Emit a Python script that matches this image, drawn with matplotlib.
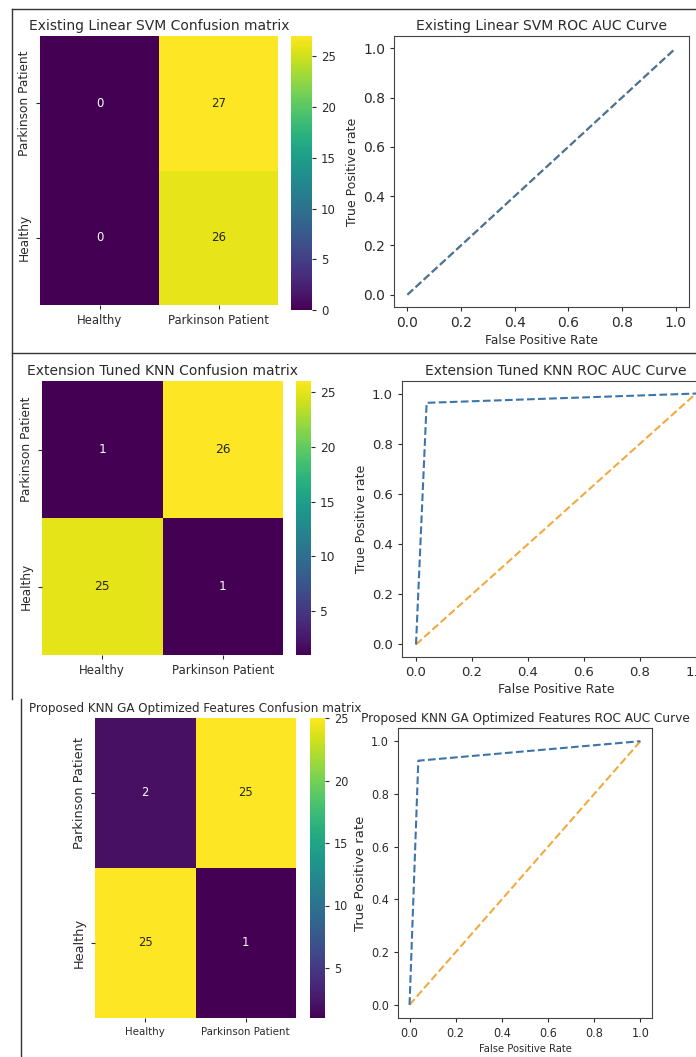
import numpy as np
import matplotlib
matplotlib.use('Agg')
import matplotlib.pyplot as plt
import seaborn as sns
from matplotlib.lines import Line2D

W, H = 696, 1057

labels = ['Healthy', 'Parkinson Patient']
row_labels = ['Parkinson Patient', 'Healthy']

svm_cm = np.array([[0, 27], [0, 26]])
knn_cm = np.array([[1, 26], [25, 1]])
ga_cm = np.array([[2, 25], [25, 1]])

svm_fpr = [0.0, 1.0]
svm_tpr = [0.0, 1.0]
knn_fpr = [0.0, 0.038, 1.0]
knn_tpr = [0.0, 0.963, 1.0]
ga_fpr = [0.0, 0.038, 1.0]
ga_tpr = [0.0, 0.926, 1.0]
chance = [0.0, 1.0]

titles = ['Existing Linear SVM', 'Extension Tuned KNN', 'Proposed KNN GA Optimized Features']

BLUE = '#3d75aa'
ORANGE = '#f2aa40'
TXT = '#2b2b2b'


def box(x0, y0, x1, y1):
    # pixel box -> figure fraction
    return [x0 / W, 1 - y1 / H, (x1 - x0) / W, (y1 - y0) / H]


def draw_cm(fig, cm, title, hm_box, cb_box, sz, fp, fp_rot):
    ax = fig.add_axes(box(*hm_box))
    cax = fig.add_axes(box(*cb_box))
    sns.heatmap(cm, annot=True, fmt='d', cmap='viridis', ax=ax, cbar_ax=cax,
                xticklabels=labels, yticklabels=row_labels,
                annot_kws=dict(fontsize=sz['annot'], **fp))
    ax.set_title(title + ' Confusion matrix', fontsize=sz['title'], color=TXT, pad=4, **fp)
    ax.tick_params(labelsize=sz['tick'], colors=TXT, length=3)
    for t in ax.get_xticklabels():
        t.set(**fp)
    for t in ax.get_yticklabels():
        t.set(fontsize=sz['ytick'], **fp_rot)
    plt.setp(ax.get_yticklabels(), rotation=90, va='center')
    cax.tick_params(labelsize=sz['cbar'], colors=TXT, length=3)
    for t in cax.get_yticklabels():
        t.set(**fp)
    return ax


def draw_roc(fig, fpr, tpr, title, ax_box, sz, fp, fp_rot):
    ax = fig.add_axes(box(*ax_box))
    ax.plot(chance, chance, linestyle='--', color=ORANGE, lw=1.5)
    ax.plot(fpr, tpr, linestyle='--', color=BLUE, lw=1.5)
    ax.set_xlim(-0.05, 1.05)
    ax.set_ylim(-0.05, 1.05)
    ax.set_xticks(np.arange(0, 1.01, 0.2))
    ax.set_yticks(np.arange(0, 1.01, 0.2))
    ax.set_title(title + ' ROC AUC Curve', fontsize=sz['title'], color=TXT, pad=4, **fp)
    ax.set_xlabel('False Positive Rate', fontsize=sz['xlabel'], color=TXT, labelpad=3, **fp)
    ax.set_ylabel('True Positive rate', fontsize=sz['ylabel'], color=TXT, labelpad=3, **fp_rot)
    ax.tick_params(labelsize=sz['tick'], colors=TXT, length=3)
    for t in ax.get_xticklabels() + ax.get_yticklabels():
        t.set(**fp)
    for s in ax.spines.values():
        s.set_color('#444444')
    return ax


fig = plt.figure(figsize=(W / 100, H / 100), dpi=100)
fig.patch.set_facecolor('white')

plain = dict(family='DejaVu Sans')
cond = dict(family='DejaVu Sans', fontstretch='condensed')

cm1 = dict(title=10, tick=8.4, ytick=8.7, annot=8.5, cbar=8.5)
roc1 = dict(title=10, tick=10, xlabel=8.7, ylabel=9)
cm2 = dict(title=10, tick=8.5, ytick=8.7, annot=8.8, cbar=8.8)
roc2 = dict(title=10, tick=9.5, xlabel=9, ylabel=9)
cm3 = dict(title=9.5, tick=8.2, ytick=9.3, annot=9.3, cbar=9)
roc3 = dict(title=9.7, tick=9, xlabel=8, ylabel=9.5)

# panel 1
draw_cm(fig, svm_cm, titles[0], (40, 36, 278, 305), (291, 36, 312, 310), cm1, plain, plain)
draw_roc(fig, svm_fpr, svm_tpr, titles[0], (394, 36, 689, 307), roc1, plain, plain)

# panel 2
draw_cm(fig, knn_cm, titles[1], (42, 381, 283, 655), (296, 381, 311, 655), cm2, plain, plain)
draw_roc(fig, knn_fpr, knn_tpr, titles[1], (402, 381, 710, 657), roc2, plain, plain)

# panel 3 (squeezed screenshot -> condensed text)
draw_cm(fig, ga_cm, titles[2], (95, 718, 296, 1018), (310, 718, 325, 1018), cm3, cond, plain)
draw_roc(fig, ga_fpr, ga_tpr, titles[2], (398, 728, 652, 1018), roc3, cond, plain)

# screenshot frames
def fline(xs, ys):
    fig.add_artist(Line2D([x / W for x in xs], [1 - y / H for y in ys],
                          color='#333333', lw=1.0, transform=fig.transFigure))

fline([12, 696], [9, 9])
fline([12, 12], [9, 699])
fline([12, 696], [353, 353])
fline([21, 21], [699, 1057])

fig.savefig('out.png', dpi=100)
